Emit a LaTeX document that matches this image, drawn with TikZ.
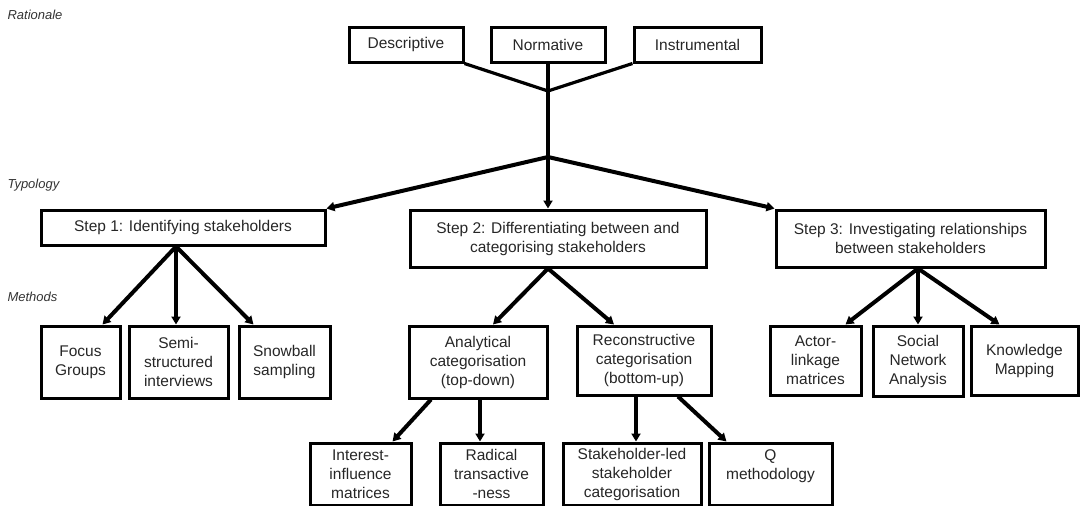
\documentclass[tikz,border=0pt]{standalone}
\usepackage{fontspec}
\setmainfont{Liberation Sans}
\usetikzlibrary{arrows.meta}
\begin{document}
\begin{tikzpicture}[x=1pt,y=-1pt]
        \tikzstyle{block} = [rectangle, text=black!85, align=center, draw=black, line width=3, inner sep=0pt, font=\fontsize{15.5}{19}\selectfont]
        \tikzstyle{line} = [-{Triangle[length=8pt,width=9pt]},draw=black,line width=4]
        \tikzstyle{noarrow} = [draw=black,line width=3.2]
        \tikzstyle{tier} = [anchor=west, text=black!80, font=\fontsize{13}{15}\selectfont\itshape]
        \useasboundingbox (0,0) rectangle (1080,506);
        \node[tier] (rationale) at (4,15) {Rationale};
        \node[tier] (typology) at (4,185) {Typology};
        \node[tier] (methods) at (4,297) {Methods};
        \node[block, minimum width=114, minimum height=35] (desc) at (406,44.5) {Descriptive};
        \node[block, minimum width=114, minimum height=35] (norm) at (548,44.5) {Normative};
        \node[block, minimum width=127, minimum height=35] (instr) at (697.5,44.5) {Instrumental};
        \coordinate (j1) at (548,91);
        \coordinate (j2) at (548,157);
        \node[block, minimum width=284, minimum height=35] (step1) at (183,227.5) {Step 1: Identifying stakeholders};
        \node[block, minimum width=296, minimum height=57] (step2) at (558,238.5) {Step 2: Differentiating between and\\categorising stakeholders};
        \node[block, minimum width=269, minimum height=57] (step3) at (910.5,238.5) {Step 3: Investigating relationships\\between stakeholders};
        \node[block, minimum width=79, minimum height=72] (focus) at (80.5,362) {Focus\\Groups};
        \node[block, minimum width=99, minimum height=72] (semi) at (178.5,362) {Semi-\\structured\\interviews};
        \node[block, minimum width=91, minimum height=72] (snow) at (284.5,362) {Snowball\\sampling};
        \node[block, minimum width=138, minimum height=72] (anal) at (478,362) {Analytical\\categorisation\\(top-down)};
        \node[block, minimum width=134, minimum height=69] (recon) at (644,360.5) {Reconstructive\\categorisation\\(bottom-up)};
        \node[block, minimum width=91, minimum height=69] (actor) at (815.5,360.5) {Actor-\\linkage\\matrices};
        \node[block, minimum width=90, minimum height=70] (sna) at (918,361) {Social\\Network\\Analysis};
        \node[block, minimum width=107, minimum height=69] (km) at (1024.5,360.5) {Knowledge\\Mapping};
        \node[block, minimum width=101, minimum height=62] (interest) at (360.5,474) {Interest-\\influence\\matrices};
        \node[block, minimum width=103, minimum height=62] (radical) at (491.5,474) {Radical\\transactive\\-ness};
        \node[block, minimum width=138, minimum height=62] (stakeled) at (632,474) {Stakeholder-led\\stakeholder\\categorisation};
        \node[block, minimum width=123, minimum height=62] (qmeth) at (770.5,474) {Q\\methodology\\\mbox{}};
        % rationale to typology
        \draw[noarrow] (desc.south east) -- (j1);
        \draw[noarrow] (instr.south west) -- (j1);
        \draw[noarrow] (norm.south) -- (j2);
        \draw[line] (j2) -- (step1.north east);
        \draw[line] (j2) -- (j2 |- step2.north);
        \draw[line] (j2) -- (step3.north west);
        % typology to methods
        \coordinate (s1) at ([xshift=-7pt]step1.south);
        \draw[line] (s1) -- ([xshift=22pt]focus.north);
        \draw[line] (s1) -- (s1 |- semi.north);
        \draw[line] (s1) -- ([xshift=-31pt]snow.north);
        \coordinate (s2) at (j2 |- step2.south);
        \draw[line] (s2) -- ([xshift=15pt]anal.north);
        \draw[line] (s2) -- ([xshift=-30pt]recon.north);
        \coordinate (s3) at ([xshift=7.5pt]step3.south);
        \draw[line] (s3) -- ([xshift=30pt]actor.north);
        \draw[line] (s3) -- (s3 |- sna.north);
        \draw[line] (s3) -- ([xshift=-25pt]km.north);
        % second level of methods
        \coordinate (a1) at ([xshift=-47pt]anal.south);
        \coordinate (a2) at ([xshift=2pt]anal.south);
        \draw[line] (a1) -- ([xshift=32pt]interest.north);
        \draw[line] (a2) -- (a2 |- radical.north);
        \coordinate (r1) at ([xshift=-8pt]recon.south);
        \coordinate (r2) at ([xshift=34pt]recon.south);
        \draw[line] (r1) -- (r1 |- stakeled.north);
        \draw[line] (r2) -- ([xshift=-44pt]qmeth.north);
    \end{tikzpicture}
\end{document}
